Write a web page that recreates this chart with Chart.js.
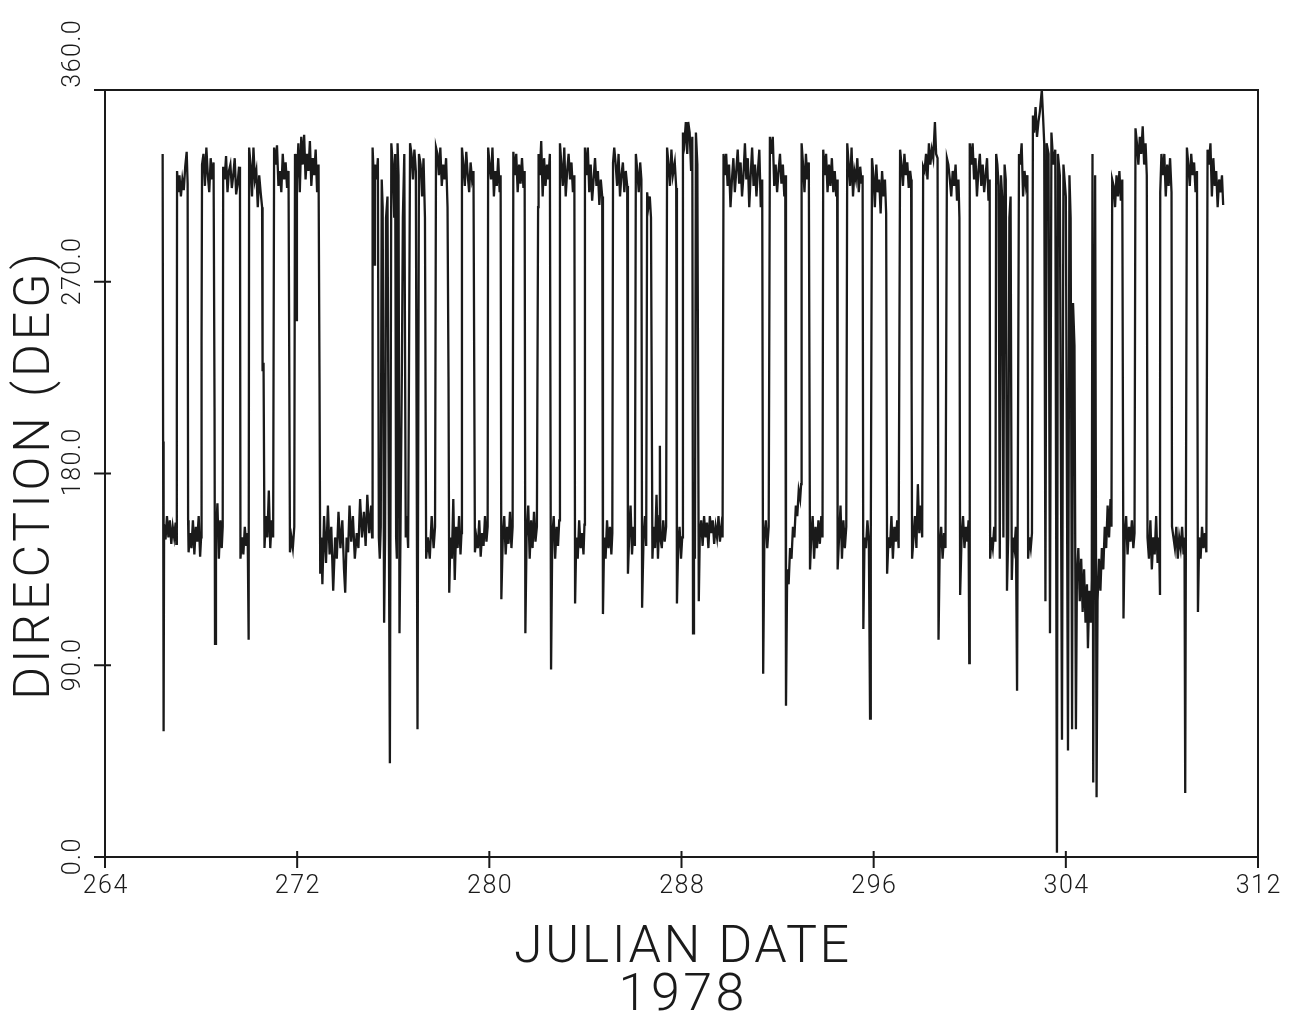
<!DOCTYPE html>
<html>
<head>
<meta charset="utf-8">
<title>Direction vs Julian date, 1978</title>
<script src="https://cdn.jsdelivr.net/npm/chart.js@4.4.1/dist/chart.umd.min.js"></script>
<style>
  html, body { margin: 0; padding: 0; background: #fff; }
  canvas { display: block; }
</style>
</head>
<body>
<canvas id="dirChart" width="1305" height="1012"></canvas>
<script>
const xTicks = [264, 272, 280, 288, 296, 304, 312];
const yTicks = [0, 90, 180, 270, 360];
const yTickLabels = ["0.0", "90.0", "180.0", "270.0", "360.0"];
const xTitle = "JULIAN DATE";
const yearLabel = "1978";
const yTitle = "DIRECTION (DEG)";

// [julian day, direction in deg]
const readings = [
  [266.40,330],[266.42,195],[266.44,59],[266.46,156],[266.52,149],[266.58,160],[266.64,150],[266.70,158],[266.76,147],[266.82,155],[266.88,150],[266.94,157],[266.97,147],
  [266.99,209],[267.00,322],[267.05,312],[267.10,320],[267.16,310],[267.22,318],[267.28,313],[267.34,324],[267.40,331],[267.44,316],
  [267.46,158],[267.48,143],[267.54,152],[267.60,145],[267.66,158],[267.72,142],[267.78,155],[267.84,148],[267.90,160],[267.96,141],[268.00,150],
  [268.02,242],[268.04,325],[268.10,330],[268.16,315],[268.22,333],[268.28,320],[268.34,312],[268.40,328],[268.46,318],[268.52,326],
  [268.56,211],[268.58,100],[268.62,150],[268.68,166],[268.74,140],[268.80,158],[268.86,145],[268.90,155],
  [268.92,324],[268.98,318],[269.04,329],[269.10,312],[269.16,322],[269.22,325],[269.28,314],[269.34,320],[269.40,328],[269.46,311],[269.52,316],[269.58,324],[269.62,313],
  [269.64,140],[269.70,150],[269.76,142],[269.82,155],[269.88,146],[269.94,152],[269.98,102],
  [270.00,333],[270.06,325],[270.12,310],[270.18,333],[270.24,318],[270.30,322],[270.36,305],[270.42,320],[270.48,312],[270.54,305],[270.56,228],[270.60,232],
  [270.64,145],[270.70,160],[270.76,150],[270.82,172],[270.88,145],[270.94,158],[271.00,150],
  [271.04,333],[271.10,325],[271.16,334],[271.22,315],[271.28,322],[271.34,312],[271.40,330],[271.46,318],[271.52,326],[271.58,314],[271.64,322],
  [271.70,143],[271.76,150],[271.82,145],[271.88,155],
  [271.91,330],[271.95,320],[271.97,252],[271.99,318],[272.05,335],[272.11,312],[272.17,338],[272.23,325],[272.29,339],[272.35,318],[272.41,330],[272.47,322],[272.53,336],[272.59,315],[272.65,328],[272.71,320],[272.77,332],[272.83,312],[272.89,325],
  [272.93,225],[272.96,133],[273.00,150],[273.05,128],[273.12,160],[273.20,138],[273.28,165],[273.35,142],[273.42,155],[273.50,125],[273.58,150],[273.65,140],[273.72,162],[273.80,145],[273.88,158],[273.95,135],[274.00,124],
  [274.06,150],[274.12,143],[274.18,165],[274.25,148],[274.32,160],[274.40,140],[274.48,152],[274.55,145],[274.62,168],[274.70,150],[274.78,162],[274.85,146],[274.92,170],[275.00,152],[275.08,165],[275.12,150],
  [275.14,333],[275.18,322],[275.20,278],[275.24,325],[275.30,318],[275.36,328],[275.40,150],[275.44,140],[275.48,155],
  [275.52,318],[275.56,305],[275.62,110],[275.66,150],[275.70,300],[275.76,310],[275.86,44],
  [275.92,335],[275.98,325],[276.04,300],[276.08,330],[276.12,150],[276.15,140],[276.18,335],[276.22,320],[276.26,105],[276.30,150],
  [276.36,230],[276.40,300],[276.46,330],[276.52,150],[276.56,160],[276.62,145],
  [276.70,335],[276.76,330],[276.82,318],[276.88,332],[276.94,322],[277.01,60],
  [277.07,330],[277.14,325],[277.20,310],[277.26,328],[277.32,300],[277.37,140],[277.44,150],[277.52,140],[277.60,160],[277.68,145],[277.74,155],
  [277.78,333],[277.84,330],[277.90,320],[277.96,333],[278.02,315],[278.08,325],[278.14,318],[278.20,328],[278.26,305],
  [278.30,225],[278.33,124],[278.38,150],[278.44,140],[278.50,168],[278.56,130],[278.62,155],[278.68,145],[278.74,160],[278.80,142],[278.84,152],
  [278.86,333],[278.92,325],[278.98,315],[279.04,331],[279.10,320],[279.16,312],[279.22,326],[279.28,318],[279.34,322],
  [279.40,143],[279.46,150],[279.52,145],[279.58,158],[279.64,141],[279.70,152],[279.76,146],[279.82,160],[279.88,148],[279.93,155],
  [279.95,333],[280.01,325],[280.07,318],[280.13,333],[280.19,310],[280.25,322],[280.31,315],[280.37,328],[280.43,312],[280.47,320],
  [280.50,121],[280.56,150],[280.62,160],[280.68,142],[280.74,155],[280.80,147],[280.86,162],[280.92,145],[280.97,155],
  [281.00,331],[281.06,320],[281.12,330],[281.18,312],[281.24,325],[281.30,316],[281.36,328],[281.42,314],[281.47,322],
  [281.50,105],[281.55,150],[281.62,165],[281.68,140],[281.74,158],[281.80,145],[281.86,162],[281.92,148],[281.98,155],
  [282.03,305],[282.05,330],[282.10,320],[282.16,336],[282.22,310],[282.28,328],[282.34,315],[282.40,325],[282.46,318],[282.52,330],
  [282.57,88],[282.62,150],[282.68,160],[282.74,140],[282.80,155],[282.86,146],[282.91,158],
  [282.94,335],[283.00,325],[283.06,315],[283.12,333],[283.18,310],[283.24,322],[283.30,330],[283.36,318],[283.42,326],[283.48,312],[283.54,320],
  [283.57,119],[283.62,150],[283.68,140],[283.74,158],[283.80,145],[283.86,152],[283.92,142],[283.96,156],
  [283.98,333],[284.04,320],[284.10,333],[284.16,312],[284.22,325],[284.28,308],[284.34,318],[284.40,328],[284.46,315],[284.52,322],[284.58,306],[284.64,318],[284.70,310],
  [284.73,114],[284.78,150],[284.84,140],[284.90,158],[284.96,145],[285.02,155],[285.08,142],[285.12,152],
  [285.15,326],[285.20,333],[285.26,325],[285.32,315],[285.38,330],[285.44,310],[285.50,320],[285.56,326],[285.62,312],[285.68,322],[285.74,315],
  [285.77,133],[285.82,150],[285.88,165],[285.94,142],[286.00,155],[286.06,146],
  [286.10,330],[286.16,322],[286.22,312],[286.28,326],[286.33,318],[286.36,117],[286.42,150],[286.48,160],[286.53,146],
  [286.57,312],[286.62,305],[286.68,310],[286.73,300],[286.77,192],[286.79,140],
  [286.84,155],[286.90,145],[286.96,170],[287.02,140],[287.08,160],[287.10,193],[287.12,150],[287.18,145],[287.24,158],[287.30,148],[287.36,155],
  [287.40,333],[287.46,325],[287.52,315],[287.58,332],[287.64,320],[287.72,326],[287.78,314],
  [287.81,119],[287.86,145],[287.92,155],[287.98,140],[288.03,150],
  [288.06,340],[288.12,335],[288.18,345],[288.24,330],[288.28,345],[288.34,340],[288.40,322],[288.45,338],
  [288.48,105],[288.52,150],[288.56,140],[288.60,340],[288.66,325],[288.72,120],
  [288.76,150],[288.82,158],[288.88,146],[288.94,160],[289.00,150],[289.06,157],[289.12,145],[289.18,160],[289.24,152],[289.30,158],[289.36,147],[289.42,155],[289.48,150],[289.54,160],[289.60,148],[289.66,155],[289.71,150],
  [289.75,330],[289.80,320],[289.86,330],[289.92,315],[289.98,325],[290.04,305],[290.10,318],[290.16,328],[290.22,312],[290.28,322],[290.34,332],[290.40,316],[290.46,326],[290.52,310],
  [290.58,320],[290.64,335],[290.70,318],[290.76,328],[290.82,305],[290.88,320],[290.94,333],[291.00,315],[291.06,325],[291.12,310],[291.18,322],[291.24,332],[291.30,305],[291.36,318],
  [291.40,86],[291.45,150],[291.51,158],[291.57,145],[291.63,155],
  [291.68,338],[291.74,330],[291.80,338],[291.86,315],[291.92,325],[291.98,312],[292.04,322],[292.10,330],[292.16,316],[292.22,325],[292.28,310],[292.32,320],
  [292.35,71],[292.40,135],[292.46,128],[292.52,145],[292.58,140],[292.64,155],[292.70,150],[292.76,165],[292.82,160],[292.88,172],[292.94,168],[292.98,175],
  [293.00,335],[293.06,325],[293.12,312],[293.18,330],[293.24,318],[293.30,326],
  [293.35,135],[293.40,150],[293.46,160],[293.52,140],[293.58,155],[293.64,145],[293.70,158],[293.76,147],[293.82,160],[293.87,150],
  [293.90,332],[293.96,320],[294.02,330],[294.08,312],[294.14,325],[294.20,315],[294.26,328],[294.32,312],[294.38,322],[294.44,310],[294.48,318],
  [294.50,135],[294.56,150],[294.62,165],[294.68,140],[294.74,158],[294.80,145],[294.86,155],
  [294.90,335],[294.96,325],[295.02,315],[295.08,333],[295.14,310],[295.20,322],[295.26,318],[295.32,328],[295.38,312],[295.44,324],[295.50,316],[295.54,320],
  [295.57,107],[295.62,150],[295.68,145],[295.74,158],[295.80,148],[295.85,65],[295.88,150],
  [295.93,328],[295.99,320],[296.05,305],[296.11,325],[296.17,312],[296.23,318],[296.29,302],[296.35,322],[296.41,310],[296.47,318],[296.52,302],
  [296.56,133],[296.62,150],[296.68,145],[296.74,160],[296.80,140],[296.86,155],[296.92,148],[296.98,158],[297.04,145],
  [297.10,332],[297.16,325],[297.22,315],[297.28,330],[297.34,320],[297.40,326],[297.46,314],[297.52,322],[297.56,318],
  [297.58,222],[297.60,140],[297.66,150],[297.72,160],[297.78,145],[297.84,175],[297.90,152],[297.96,165],[298.02,150],
  [298.06,324],[298.12,322],[298.18,330],[298.24,318],[298.30,335],[298.36,325],[298.42,332],[298.48,328],[298.55,345],[298.60,330],[298.66,328],
  [298.70,102],[298.75,145],[298.81,155],[298.87,140],[298.93,152],[298.99,145],
  [299.05,328],[299.11,325],[299.17,318],[299.23,310],[299.29,322],[299.35,315],[299.41,325],[299.47,308],[299.53,318],[299.57,300],
  [299.60,123],[299.66,150],[299.72,160],[299.78,145],[299.84,155],[299.90,148],[299.95,158],[299.98,91],
  [300.00,335],[300.06,325],[300.12,335],[300.18,318],[300.24,328],[300.30,310],[300.36,322],[300.42,330],[300.48,315],[300.54,325],[300.60,312],[300.66,320],[300.72,328],[300.78,308],[300.83,318],
  [300.85,140],[300.90,150],[300.96,145],[301.02,155],[301.07,148],
  [301.10,330],[301.15,325],[301.20,315],[301.25,140],[301.30,320],[301.35,310],[301.40,150],[301.45,325],[301.50,318],[301.55,125],[301.60,150],
  [301.65,300],[301.70,310],[301.75,130],[301.80,150],[301.86,145],[301.92,155],[301.97,78],
  [302.05,330],[302.10,325],[302.16,335],[302.22,310],[302.28,322],[302.34,315],[302.40,320],
  [302.43,140],[302.48,150],[302.54,145],[302.59,152],
  [302.63,348],[302.68,340],[302.74,352],[302.80,338],[302.86,345],[302.92,350],[303.00,360],[303.05,348],[303.10,335],
  [303.15,120],[303.20,335],[303.28,330],[303.34,105],[303.40,340],[303.48,325],[303.56,332],[303.63,2],[303.67,330],[303.75,320],
  [303.84,55],[303.90,325],[304.00,310],[304.09,50],[304.15,320],[304.20,300],[304.26,60],[304.30,260],[304.36,240],[304.42,60],
  [304.46,130],[304.52,145],[304.58,120],[304.64,140],[304.70,115],[304.76,135],[304.82,110],[304.88,128],[304.92,98],[304.98,125],[305.04,110],[305.08,130],
  [305.11,330],[305.14,35],[305.22,320],[305.28,28],[305.32,120],
  [305.38,140],[305.44,125],[305.50,145],[305.56,135],[305.62,155],[305.68,145],[305.74,165],[305.80,150],[305.86,168],[305.90,155],
  [305.93,318],[305.99,315],[306.05,305],[306.11,320],[306.17,310],[306.23,322],[306.29,308],[306.35,318],
  [306.40,112],[306.45,150],[306.51,160],[306.57,142],[306.63,155],[306.69,148],[306.75,158],[306.81,145],[306.86,152],
  [306.90,342],[306.96,335],[307.02,325],[307.08,338],[307.14,330],[307.20,343],[307.26,325],[307.32,335],[307.37,320],
  [307.40,150],[307.46,140],[307.52,158],[307.58,135],[307.64,150],[307.70,142],[307.76,160],[307.82,138],[307.88,150],[307.92,123],
  [307.93,312],[307.98,330],[308.04,320],[308.10,330],[308.16,310],[308.22,325],[308.28,315],[308.34,328],[308.40,312],
  [308.42,155],[308.48,150],[308.54,145],[308.60,155],[308.66,140],[308.72,150],[308.78,145],[308.84,155],[308.90,142],[308.94,150],[308.97,30],
  [309.04,333],[309.10,325],[309.16,315],[309.22,330],[309.28,320],[309.34,326],[309.40,312],[309.46,322],
  [309.50,115],[309.55,150],[309.61,140],[309.67,155],[309.73,145],[309.79,152],[309.85,143],
  [309.90,332],[309.96,325],[310.02,335],[310.08,310],[310.14,328],[310.20,315],[310.26,322],[310.32,305],[310.38,318],[310.44,312],[310.50,320],[310.55,306]
];

const plotFont = 'Roboto, "DejaVu Sans", sans-serif';
const inkColor = "#1a1a1a";
// upward nudge of each y tick label, as the plotter placed them
const yLabelNudge = [0, 0, 11, 10, 36];

function label(ctx, text, x, y, size, spacing) {
  ctx.font = "300 " + size + "px " + plotFont;
  ctx.letterSpacing = spacing + "px";
  ctx.fillText(text, x + spacing / 2, y);
}

const plotterFrame = {
  id: "plotterFrame",
  afterDraw(chart) {
    const { ctx, chartArea: area, scales } = chart;
    const xs = scales.x, ys = scales.y;
    ctx.save();
    ctx.strokeStyle = inkColor;
    ctx.lineWidth = 2;
    ctx.strokeRect(area.left, area.top, area.right - area.left, area.bottom - area.top);

    // tick marks crossing the axes
    ctx.beginPath();
    xTicks.forEach(v => {
      const px = xs.getPixelForValue(v);
      ctx.moveTo(px, area.bottom - 6);
      ctx.lineTo(px, area.bottom + 11);
    });
    yTicks.forEach(v => {
      const py = ys.getPixelForValue(v);
      ctx.moveTo(area.left - 11, py);
      ctx.lineTo(area.left + 6, py);
    });
    ctx.stroke();

    ctx.fillStyle = inkColor;
    ctx.textAlign = "center";
    ctx.textBaseline = "alphabetic";
    xTicks.forEach(v => label(ctx, String(v), xs.getPixelForValue(v), area.bottom + 36, 25, 1.5));

    // y tick labels, written upward
    yTicks.forEach((v, i) => {
      ctx.save();
      ctx.translate(area.left - 25, ys.getPixelForValue(v) - yLabelNudge[i]);
      ctx.rotate(-Math.PI / 2);
      label(ctx, yTickLabels[i], 0, 0, 25, 1.5);
      ctx.restore();
    });

    const midX = (area.left + area.right) / 2;
    label(ctx, xTitle, midX, area.bottom + 105, 52, 2.5);
    label(ctx, yearLabel, midX, area.bottom + 153, 52, 3.5);

    ctx.save();
    ctx.translate(area.left - 56, (area.top + area.bottom) / 2 + 3);
    ctx.rotate(-Math.PI / 2);
    label(ctx, yTitle, 0, 0, 50, 4);
    ctx.restore();
    ctx.restore();
  }
};

new Chart(document.getElementById("dirChart"), {
  type: "line",
  data: {
    datasets: [{
      data: readings.map(r => ({ x: r[0], y: r[1] })),
      borderColor: inkColor,
      borderWidth: 2.3,
      pointRadius: 0,
      tension: 0,
      fill: false
    }]
  },
  options: {
    responsive: false,
    animation: false,
    devicePixelRatio: 1,
    layout: { padding: { left: 105, right: 47, top: 90, bottom: 155 } },
    plugins: { legend: { display: false }, tooltip: { enabled: false } },
    scales: {
      x: { type: "linear", min: 264, max: 312, display: false },
      y: { type: "linear", min: 0, max: 360, display: false }
    }
  },
  plugins: [plotterFrame]
});
</script>
</body>
</html>
